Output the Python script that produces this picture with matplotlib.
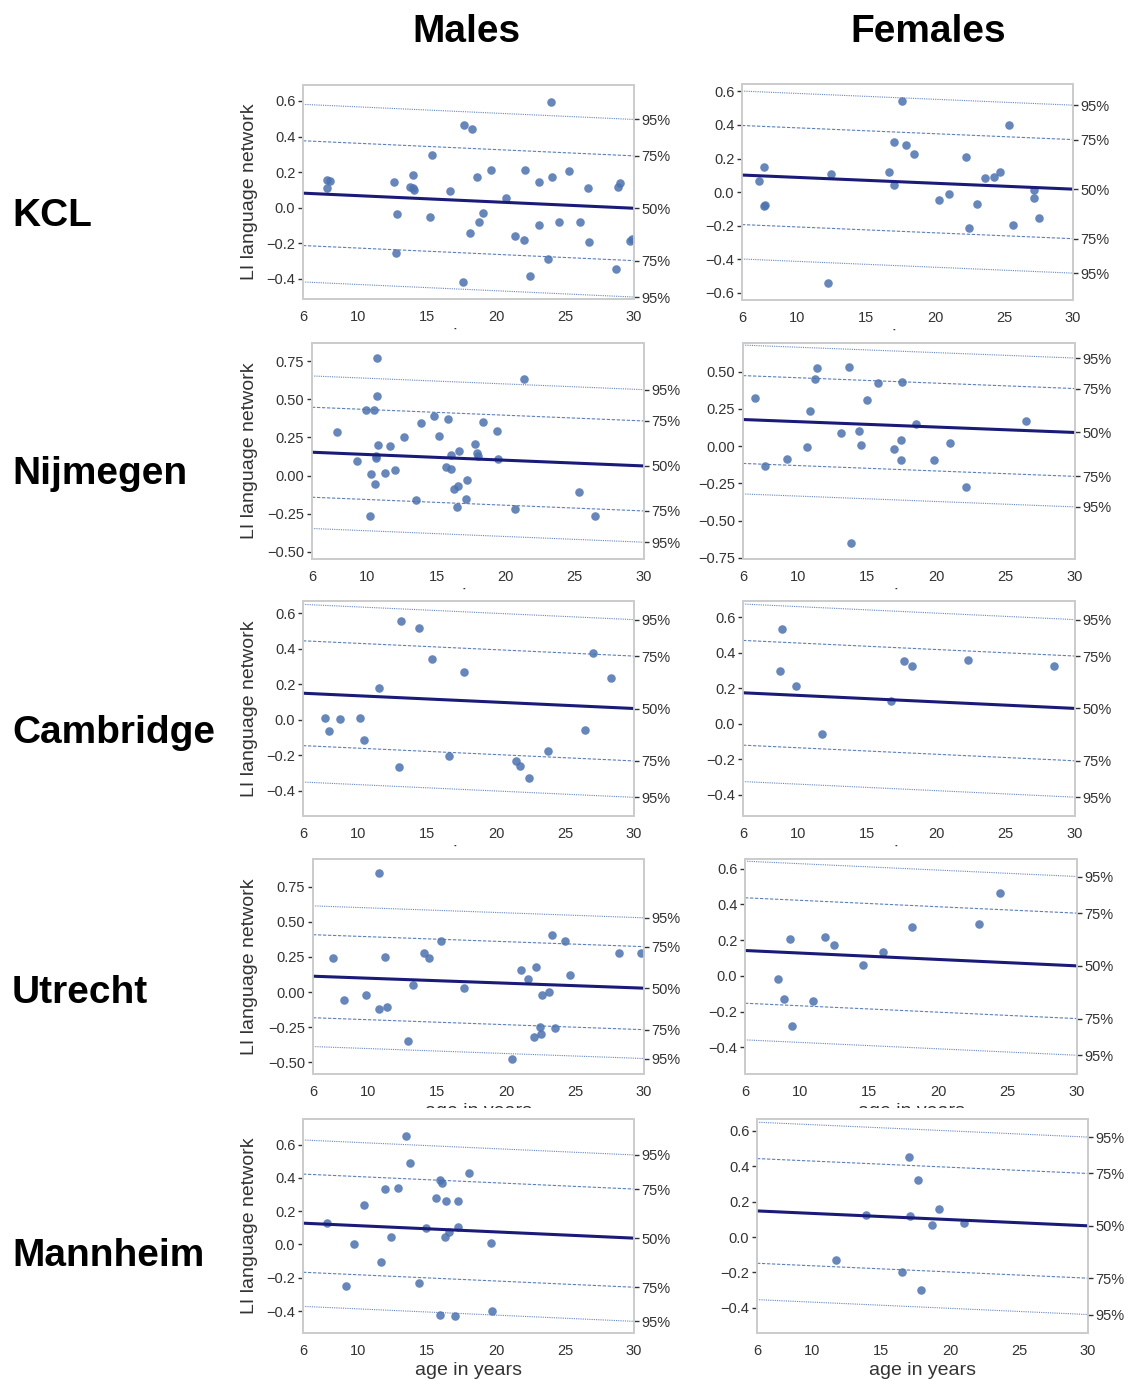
import numpy as np
import matplotlib
matplotlib.use("Agg")
import matplotlib.pyplot as plt
from matplotlib.ticker import MultipleLocator
from matplotlib.transforms import Bbox, TransformedBbox

plt.rcParams['font.family'] = ['Liberation Sans', 'DejaVu Sans']

# ---------------- data ----------------
sites = ['KCL', 'Nijmegen', 'Cambridge', 'Utrecht', 'Mannheim']
sexes = ['Males', 'Females']

kcl_m_age = [7.76, 7.96, 7.74, 12.6, 12.8, 12.74, 13.75, 13.97, 13.95, 14.07, 15.32, 15.18, 16.63,
             17.67, 18.27, 17.62, 18.1, 18.6, 18.75, 19.04, 19.62, 20.69, 21.39, 22.11, 22.06, 22.47,
             23.1, 23.1, 23.99, 24.07, 23.78, 24.55, 25.28, 26.07, 26.65, 26.77, 28.66, 28.83, 29.0,
             29.72, 29.87]
kcl_m_li = [0.155, 0.152, 0.112, 0.146, -0.037, -0.257, 0.118, 0.184, 0.109, 0.099, 0.296, -0.051, 0.094,
            0.464, 0.44, -0.418, -0.144, 0.172, -0.079, -0.028, 0.212, 0.051, -0.161, 0.212, -0.184, -0.384,
            0.146, -0.101, 0.592, 0.174, -0.288, -0.082, 0.206, -0.082, 0.112, -0.195, -0.345, 0.118, 0.139,
            -0.189, -0.178]

kcl_f_age = [7.26, 7.6, 7.6, 7.69, 12.26, 12.48, 16.63, 17.0, 17.0, 17.63, 17.87, 18.45, 20.28, 21.01,
             22.24, 22.46, 23.02, 23.6, 24.25, 24.73, 25.38, 25.63, 27.17, 27.17, 27.53]
kcl_f_li = [0.068, 0.151, -0.085, -0.074, -0.541, 0.109, 0.121, 0.298, 0.044, 0.541, 0.28, 0.229, -0.044,
            -0.008, 0.211, -0.215, -0.068, 0.085, 0.091, 0.121, 0.4, -0.193, 0.012, -0.034, -0.151]

nij_m_age = [7.78, 9.23, 9.92, 10.45, 10.72, 10.72, 10.6, 10.65, 10.79, 10.28, 10.53, 10.21, 11.3, 11.63,
             11.99, 12.64, 13.51, 13.87, 14.79, 15.15, 15.8, 15.7, 16.06, 16.06, 16.25, 16.59, 16.5, 16.64,
             17.22, 17.15, 17.77, 17.94, 17.99, 18.37, 19.36, 19.48, 20.64, 21.29, 25.28, 26.49]
nij_m_li = [0.284, 0.096, 0.427, 0.433, 0.519, 0.772, 0.129, 0.114, 0.199, 0.011, -0.055, -0.263, 0.018, 0.195,
            0.037, 0.252, -0.158, 0.344, 0.39, 0.258, 0.368, 0.057, 0.133, 0.042, -0.088, -0.066, -0.204, 0.162,
            -0.028, -0.153, 0.206, 0.149, 0.129, 0.35, 0.291, 0.109, -0.217, 0.635, -0.107, -0.263]

nij_f_age = [6.89, 7.61, 9.18, 10.62, 10.81, 11.18, 11.34, 13.08, 13.68, 13.82, 14.4, 14.52, 14.96, 15.75,
             16.95, 17.39, 17.39, 17.53, 18.54, 19.82, 20.95, 22.15, 26.46]
nij_f_li = [0.324, -0.134, -0.087, -0.007, 0.233, 0.452, 0.526, 0.087, 0.532, -0.651, 0.101, 0.011, 0.311,
            0.425, -0.022, 0.04, -0.094, 0.432, 0.152, -0.094, 0.02, -0.273, 0.172]

cam_m_age = [7.62, 7.89, 8.68, 10.13, 10.4, 11.53, 12.98, 13.13, 14.41, 15.33, 16.56, 17.7, 21.42, 21.71,
             22.36, 23.79, 26.45, 27.03, 28.31]
cam_m_li = [0.009, -0.064, 0.004, 0.009, -0.113, 0.182, -0.263, 0.556, 0.516, 0.344, -0.203, 0.267, -0.231,
            -0.257, -0.329, -0.175, -0.056, 0.377, 0.237]

cam_f_age = [8.65, 8.8, 9.86, 11.74, 16.73, 17.67, 18.25, 22.26, 28.48]
cam_f_li = [0.299, 0.532, 0.216, -0.056, 0.126, 0.355, 0.327, 0.361, 0.327]

utr_m_age = [7.45, 8.22, 9.81, 10.8, 10.8, 11.24, 11.38, 12.88, 13.24, 14.02, 14.4, 15.3, 16.96, 20.46,
             21.11, 21.62, 22.18, 22.03, 22.49, 22.56, 22.61, 23.12, 23.33, 23.53, 24.3, 24.64, 28.19, 29.8]
utr_m_li = [0.243, -0.059, -0.017, 0.849, -0.123, 0.251, -0.109, -0.348, 0.054, 0.277, 0.243, 0.362, 0.026,
            -0.475, 0.154, 0.095, 0.18, -0.322, -0.246, -0.3, -0.017, -0.002, 0.404, -0.258, 0.362, 0.123,
            0.277, 0.277]

utr_f_age = [8.37, 8.85, 9.28, 9.38, 10.88, 11.75, 12.45, 14.52, 15.95, 18.1, 22.92, 24.4]
utr_f_li = [-0.02, -0.132, 0.207, -0.283, -0.143, 0.216, 0.171, 0.061, 0.134, 0.272, 0.289, 0.466]

man_m_age = [7.76, 9.12, 9.67, 10.4, 11.68, 11.97, 12.4, 12.91, 13.49, 13.78, 14.39, 14.92, 15.62, 15.91,
             16.05, 15.91, 16.27, 16.39, 16.56, 17.05, 17.21, 17.21, 18.04, 19.66, 19.7]
man_m_li = [0.132, -0.25, 0.0, 0.238, -0.106, 0.334, 0.042, 0.338, 0.654, 0.488, -0.23, 0.096, 0.28, 0.388,
            0.372, -0.422, 0.042, 0.26, 0.076, -0.432, 0.26, 0.102, 0.428, 0.006, -0.398]

man_f_age = [11.74, 13.89, 16.54, 17.05, 17.12, 17.7, 17.89, 18.71, 19.19, 20.98]
man_f_li = [-0.132, 0.125, -0.198, 0.453, 0.121, 0.32, -0.297, 0.065, 0.159, 0.08]

# fitted median (50%) line: value at age 6 and at age 30
fit_m_start = [0.081, 0.153, 0.150, 0.113, 0.128]
fit_m_end = [-0.004, 0.063, 0.064, 0.028, 0.038]
fit_f_start = [0.102, 0.179, 0.175, 0.142, 0.147]
fit_f_end = [0.018, 0.092, 0.087, 0.056, 0.063]

# distance of the centile lines from the median
off_75 = 0.295
off_95 = 0.50
centile_labels = ['95%', '75%', '50%', '75%', '95%']

ages_m = [kcl_m_age, nij_m_age, cam_m_age, utr_m_age, man_m_age]
li_m = [kcl_m_li, nij_m_li, cam_m_li, utr_m_li, man_m_li]
ages_f = [kcl_f_age, nij_f_age, cam_f_age, utr_f_age, man_f_age]
li_f = [kcl_f_li, nij_f_li, cam_f_li, utr_f_li, man_f_li]

# ---------------- layout (pixels of the 1130x1380 image) ----------------
W, H = 1130, 1380
box_m = [(303, 85, 634, 299), (312, 343, 644, 559), (303, 601, 634, 816),
         (313, 859, 644, 1074), (303, 1119, 634, 1333)]
box_f = [(742, 84, 1073, 300), (743, 343, 1075, 559), (743, 601, 1075, 816),
         (745, 859, 1077, 1074), (757, 1119, 1088, 1333)]
ylim_m = [(-0.515, 0.69), (-0.547, 0.869), (-0.541, 0.669), (-0.582, 0.946), (-0.532, 0.754)]
ylim_f = [(-0.642, 0.644), (-0.758, 0.693), (-0.519, 0.692), (-0.549, 0.654), (-0.541, 0.665)]
ystep_m = [0.2, 0.25, 0.2, 0.25, 0.2]
ystep_f = [0.2, 0.25, 0.2, 0.2, 0.2]
label_cut = [331, 590, 848, 1108]   # x labels of upper rows are hidden below these lines
row_label_y = [216, 474, 733, 993, 1256]

dot_color = '#4c72b0'
line_color = '#1a1a78'
spine_color = '#cccccc'
text_color = '#333333'

fig = plt.figure(figsize=(W / 100, H / 100), dpi=100)


def panel(box, ages, li, start, end, ylim, ystep, row):
    x0, y0, x1, y1 = box
    ax = fig.add_axes([x0 / W, 1 - y1 / H, (x1 - x0) / W, (y1 - y0) / H])
    xs = np.array([6, 30])
    med = np.array([start, end])
    ax.plot(xs, med + off_95, color=dot_color, lw=0.8, ls=(0, (1, 1)), alpha=0.85)
    ax.plot(xs, med + off_75, color=dot_color, lw=0.8, ls=(0, (3, 1.5)), alpha=0.9)
    ax.plot(xs, med - off_75, color=dot_color, lw=0.8, ls=(0, (3, 1.5)), alpha=0.9)
    ax.plot(xs, med - off_95, color=dot_color, lw=0.8, ls=(0, (1, 1)), alpha=0.85)
    ax.scatter(ages, li, s=38, color=dot_color, alpha=0.85, linewidths=0, zorder=3)
    ax.plot(xs, med, color=line_color, lw=2.2, zorder=4)
    ax.set_xlim(6, 30)
    ax.set_ylim(*ylim)
    ax.set_xticks([6, 10, 15, 20, 25, 30])
    ax.yaxis.set_major_locator(MultipleLocator(ystep))
    ax.tick_params(axis='x', length=0, pad=8, labelsize=10.5, labelcolor=text_color)
    ax.tick_params(axis='y', length=3.5, width=1, color=text_color, pad=2,
                   labelsize=10.5, labelcolor=text_color)
    for s in ax.spines.values():
        s.set_color(spine_color)
        s.set_linewidth(1.25)
    ax.set_xlabel('age in years', fontsize=14, color=text_color, labelpad=3)
    if row < 4:
        clip = TransformedBbox(Bbox([[0, 1 - label_cut[row] / H], [1, 1]]), fig.transFigure)
        ax.xaxis.label.set_clip_box(clip)
        ax.xaxis.label.set_clip_on(True)

    ax2 = ax.twinx()
    ax2.set_ylim(*ylim)
    ax2.set_yticks([end + off_95, end + off_75, end, end - off_75, end - off_95])
    ax2.set_yticklabels(centile_labels)
    ax2.tick_params(axis='y', length=3.5, width=1, color=text_color, pad=2,
                    labelsize=10.5, labelcolor=text_color)
    for s in ax2.spines.values():
        s.set_color(spine_color)
        s.set_linewidth(1.25)
    return ax


for r in range(5):
    panel(box_m[r], ages_m[r], li_m[r], fit_m_start[r], fit_m_end[r], ylim_m[r], ystep_m[r], r)
    panel(box_f[r], ages_f[r], li_f[r], fit_f_start[r], fit_f_end[r], ylim_f[r], ystep_f[r], r)
    yc = (box_m[r][1] + box_m[r][3]) / 2
    fig.text(250 / W, 1 - yc / H, 'LI language network', rotation=90, ha='center', va='center',
             fontsize=14, color=text_color)
    fig.text(12 / W, 1 - row_label_y[r] / H, sites[r], ha='left', va='center',
             fontsize=28, fontweight='bold')

fig.text(466 / W, 1 - 32 / H, sexes[0], ha='center', va='center', fontsize=28, fontweight='bold')
fig.text(928 / W, 1 - 32 / H, sexes[1], ha='center', va='center', fontsize=28, fontweight='bold')

fig.savefig('out.png', dpi=100, facecolor='white')
